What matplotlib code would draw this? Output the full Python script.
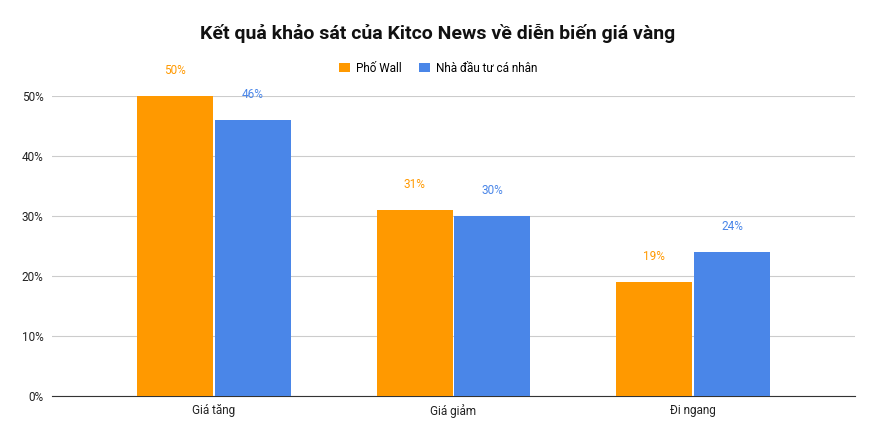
import numpy as np
import matplotlib.pyplot as plt

plt.rcParams['font.family'] = ['Roboto', 'DejaVu Sans']

categories = ['Giá tăng', 'Giá giảm', 'Đi ngang']
pho_wall = [50, 31, 19]
nha_dau_tu = [46, 30, 24]
series_names = ['Phố Wall', 'Nhà đầu tư cá nhân']
colors = ['#FF9900', '#4A86E8']

fig = plt.figure(figsize=(8.76, 4.38), dpi=100)
ax = fig.add_axes([52 / 876, 1 - 396 / 438, 803 / 876, 300 / 438])

x = np.arange(len(categories))
w = 0.317
for i, (vals, name, c) in enumerate(zip([pho_wall, nha_dau_tu], series_names, colors)):
    pos = x + (i - 0.5) * (w + 0.008)
    ax.bar(pos, vals, w, color=c, label=name, zorder=3)
    for p, v in zip(pos, vals):
        ax.annotate(f'{v}%', (p, v), xytext=(0, 14), textcoords='offset points',
                    ha='center', va='bottom', fontsize=8.5, color=c)

ax.set_xlim(-0.675, 2.675)
ax.set_ylim(0, 50)
ax.set_yticks(range(0, 51, 10))
ax.set_yticklabels([f'{t}%' for t in range(0, 51, 10)], fontsize=8.5, color='#222222')
ax.set_xticks(x)
ax.set_xticklabels(categories, fontsize=8.5, color='#222222')
ax.grid(axis='y', color='#cccccc', linewidth=0.8, zorder=0)
ax.tick_params(length=0, pad=6)
for s in ['top', 'right', 'left']:
    ax.spines[s].set_visible(False)
ax.spines['bottom'].set_color('#333333')
ax.set_clip_on(False)

fig.text(0.5, 1 - 33 / 438, 'Kết quả khảo sát của Kitco News về diễn biến giá vàng',
         ha='center', va='center', fontsize=14, fontweight='bold', color='#111111')
fig.legend(loc='center', bbox_to_anchor=(0.5, 1 - 68 / 438), ncol=2, frameon=False,
           fontsize=8.5, handlelength=0.9, handleheight=0.9, columnspacing=1.5, handletextpad=0.5)

fig.savefig('out.png', dpi=100)
